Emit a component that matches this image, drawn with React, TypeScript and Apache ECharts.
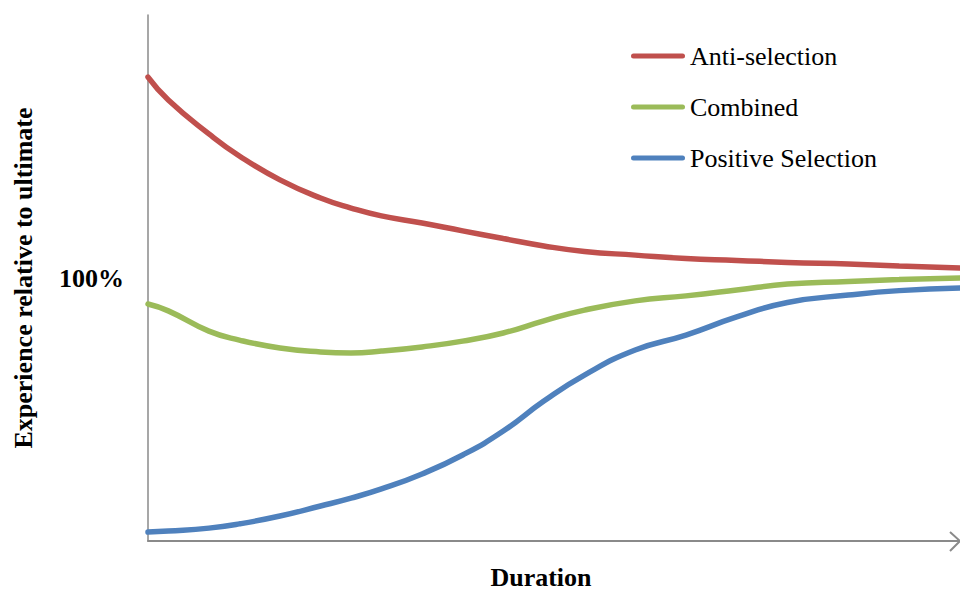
import React, { useEffect, useRef } from "react";
import * as echarts from "echarts";

// Policy duration (arbitrary units along the horizontal axis)
const durations = [0, 1, 3, 4.5, 6.5, 8.5, 10, 11.5, 13.5, 15.5, 17.5, 19.5, 21.5, 24, 26.5, 29, 31.5, 34.5, 37, 40];

// Experience as a percentage of ultimate experience
const antiSelection = [176.4, 167.7, 154.8, 146.4, 137.3, 130.4, 126.6, 123.6, 120.9, 117.9, 115.0, 112.2, 110.1, 108.7, 107.4, 106.7, 105.9, 105.3, 104.6, 103.8];
const combined = [90.1, 87.5, 79.8, 76.4, 73.4, 71.9, 71.5, 72.2, 73.8, 76.0, 79.1, 83.7, 87.8, 91.3, 93.2, 95.4, 97.7, 98.7, 99.4, 100.0];
const positiveSelection = [3.4, 3.8, 4.9, 6.5, 9.5, 13.3, 16.3, 19.8, 25.5, 32.7, 41.8, 53.2, 63.1, 72.6, 78.3, 85.2, 90.7, 93.5, 95.2, 96.2];

const seriesNames = ["Anti-selection", "Combined", "Positive Selection"];
const seriesColors = ["#C0504D", "#9BBB59", "#4F81BD"];
const seriesValues = [antiSelection, combined, positiveSelection];

const X_MAX = 40;
const Y_MAX = 200;
const UNIT_TICK = 100;

const WIDTH = 960;
const HEIGHT = 591;

const serif = "'Liberation Serif', 'Times New Roman', serif";
const axisGray = "#8a8a8a";

// Rounded bar used as the legend key
const legendBar = "path://M2.5,0 H51.5 A2.5,2.5 0 0 1 51.5,5 H2.5 A2.5,2.5 0 0 1 2.5,0 Z";

export default function App() {
  const ref = useRef<HTMLDivElement>(null);

  useEffect(() => {
    if (!ref.current) return;
    const chart = echarts.init(ref.current, undefined, { renderer: "svg", width: WIDTH, height: HEIGHT });

    const series = seriesNames.map((name, i) => ({
      name,
      type: "line",
      smooth: true,
      symbol: "none",
      data: durations.map((d, k) => [d, seriesValues[i][k]]),
      lineStyle: { color: seriesColors[i], width: 5.5, cap: "round" },
      itemStyle: { color: seriesColors[i] },
    }));

    chart.setOption({
      animation: false,
      backgroundColor: "#ffffff",
      grid: { left: 148, right: 0, top: 15, bottom: 50, outerBoundsMode: "none", containLabel: false },
      legend: {
        orient: "vertical",
        left: 631,
        top: 41,
        padding: 0,
        icon: legendBar,
        itemWidth: 54,
        itemHeight: 5,
        itemGap: 21,
        data: seriesNames,
        textStyle: { fontFamily: serif, fontSize: 26, color: "#000", lineHeight: 30 },
      },
      xAxis: {
        type: "value",
        min: 0,
        max: X_MAX,
        name: "Duration",
        nameLocation: "middle",
        nameGap: 26,
        nameTextStyle: {
          fontFamily: serif,
          fontSize: 26,
          lineHeight: 20,
          fontWeight: "bold",
          color: "#000",
          padding: [0, 26, 0, 0],
        },
        axisLine: { show: true, lineStyle: { color: axisGray, width: 2 } },
        axisTick: { show: false },
        axisLabel: { show: false },
        splitLine: { show: false },
      },
      yAxis: {
        type: "value",
        min: 0,
        max: Y_MAX,
        interval: UNIT_TICK,
        name: "Experience relative to ultimate",
        nameLocation: "middle",
        nameGap: 112,
        nameTextStyle: { fontFamily: serif, fontSize: 26, fontWeight: "bold", color: "#000" },
        axisLine: { show: true, lineStyle: { color: axisGray, width: 1.5 } },
        axisTick: { show: false },
        axisLabel: {
          margin: 24,
          fontFamily: serif,
          fontSize: 26,
          fontWeight: "bold",
          color: "#000",
          formatter: (v: number) => (v === UNIT_TICK ? "100%" : ""),
        },
        splitLine: { show: false },
      },
      series,
    });

    // Open chevron at the end of the duration axis
    const end = chart.convertToPixel({ gridIndex: 0 }, [X_MAX, 0]) as number[];
    chart.setOption({
      graphic: [
        {
          type: "polyline",
          shape: { points: [[end[0] - 10, end[1] - 9], [end[0], end[1]], [end[0] - 10, end[1] + 10]] },
          style: { stroke: axisGray, lineWidth: 2, fill: "none" },
          silent: true,
        },
      ],
    });

    return () => chart.dispose();
  }, []);

  return (
    <div
      ref={ref}
      style={{ position: "fixed", left: 0, top: 0, width: WIDTH, height: HEIGHT, background: "#fff" }}
    />
  );
}
